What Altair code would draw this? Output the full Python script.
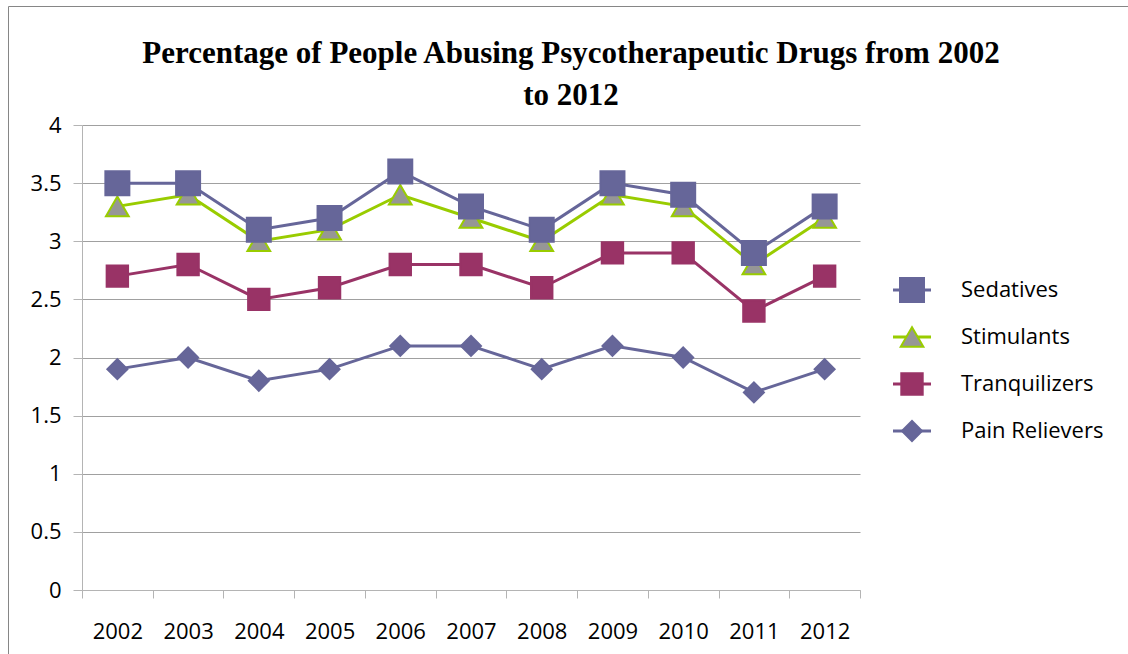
import altair as alt
import pandas as pd

# Survey years and the share (%) of people misusing each drug class
years = [str(y) for y in range(2002, 2013)]
sedatives = [3.5, 3.5, 3.1, 3.2, 3.6, 3.3, 3.1, 3.5, 3.4, 2.9, 3.3]
stimulants = [3.3, 3.4, 3.0, 3.1, 3.4, 3.2, 3.0, 3.4, 3.3, 2.8, 3.2]
tranquilizers = [2.7, 2.8, 2.5, 2.6, 2.8, 2.8, 2.6, 2.9, 2.9, 2.4, 2.7]
pain_relievers = [1.9, 2.0, 1.8, 1.9, 2.1, 2.1, 1.9, 2.1, 2.0, 1.7, 1.9]

series_names = ["Sedatives", "Stimulants", "Tranquilizers", "Pain Relievers"]
series_values = [sedatives, stimulants, tranquilizers, pain_relievers]
y_ticks = [0, 0.5, 1, 1.5, 2, 2.5, 3, 3.5, 4]

# Styling per series
line_colors = ["#666699", "#99CC00", "#993366", "#666699"]
marker_fills = ["#666699", "#969696", "#993366", "#666699"]
marker_strokes = ["#666699", "#99CC00", "#993366", "#666699"]
marker_shapes = ["square", "triangle-up", "square", "diamond"]
marker_sizes = [576, 400, 324, 400]
draw_rank = [4, 3, 2, 1]  # sedatives drawn on top

# Line keys get their own domain so the line-swatch legend stays separate
line_keys = [n + " line" for n in series_names]

rows = []
for name, key, vals, rank in zip(series_names, line_keys, series_values, draw_rank):
    for yr, v in zip(years, vals):
        rows.append({"Year": yr, "Value": v, "Series": name,
                     "SeriesLine": key, "rank": rank})
df = pd.DataFrame(rows)

# Frame (outer box) and plot-area geometry
FRAME_W, FRAME_H = 1120, 648
PLOT_X0, PLOT_X1 = 74, 852
PLOT_Y0, PLOT_Y1 = 119, 584

LABEL_FONT = "Open Sans"
GRID = "#A0A0A0"
AXIS_LINE = "#B4B4B4"

x_enc = alt.X(
    "Year:O",
    scale=alt.Scale(type="band", domain=years, range=[PLOT_X0, PLOT_X1],
                    paddingInner=0, paddingOuter=0),
    axis=alt.Axis(title=None, offset=PLOT_Y1 - FRAME_H, tickBand="extent",
                  tickSize=8, tickColor=AXIS_LINE, domainColor=AXIS_LINE,
                  labelFont=LABEL_FONT, labelFontSize=22, labelColor="black",
                  labelPadding=23, labelAngle=0, grid=False),
)
y_enc = alt.Y(
    "Value:Q",
    scale=alt.Scale(domain=[0, 4], range=[PLOT_Y1, PLOT_Y0], nice=False, zero=False),
    axis=alt.Axis(title=None, values=y_ticks, format="~g", offset=-PLOT_X0,
                  tickSize=9, tickColor=AXIS_LINE, domainColor=AXIS_LINE,
                  grid=True, gridColor=GRID, gridWidth=1,
                  labelFont=LABEL_FONT, labelFontSize=22, labelColor="black",
                  labelPadding=12),
)

LEGEND_Y = 260.5

# Line swatches behind the legend markers
line_legend = alt.Legend(
    title=None, orient="none", legendX=883.5, legendY=LEGEND_Y,
    symbolType="stroke", symbolSize=1444, symbolStrokeWidth=3,
    labelExpr="''", labelFontSize=22,
    clipHeight=47, rowPadding=0, padding=0,
)
point_legend = alt.Legend(
    title=None, orient="none", legendX=891, legendY=LEGEND_Y,
    labelFont=LABEL_FONT, labelFontSize=22, labelColor="black",
    labelOffset=36, symbolStrokeWidth=2, symbolOpacity=1,
    clipHeight=47, rowPadding=0, padding=0,
)

lines = alt.Chart(df).mark_line(strokeWidth=3).encode(
    x=x_enc,
    y=y_enc,
    color=alt.Color("SeriesLine:N",
                    scale=alt.Scale(domain=line_keys, range=line_colors),
                    legend=line_legend),
)

points = alt.Chart(df).mark_point(filled=True, opacity=1, strokeWidth=2).encode(
    x=x_enc,
    y=y_enc,
    fill=alt.Fill("Series:N", scale=alt.Scale(domain=series_names, range=marker_fills),
                  legend=point_legend),
    stroke=alt.Stroke("Series:N", scale=alt.Scale(domain=series_names, range=marker_strokes),
                      legend=point_legend),
    shape=alt.Shape("Series:N", scale=alt.Scale(domain=series_names, range=marker_shapes),
                    legend=point_legend),
    size=alt.Size("Series:N", scale=alt.Scale(domain=series_names, range=marker_sizes),
                  legend=point_legend),
    order=alt.Order("rank:Q"),
)

chart = alt.layer(lines, points).properties(
    width=FRAME_W,
    height=FRAME_H,
    title=alt.Title(
        text=["Percentage of People Abusing Psycotherapeutic Drugs from 2002", "to 2012"],
        font="Liberation Serif", fontSize=31, fontWeight="bold", color="black",
        anchor="middle", frame="group", lineHeight=42, offset=-106, dx=3,
    ),
    padding={"left": 8, "top": 6, "right": 0, "bottom": 0},
    background="white",
).configure_view(
    stroke="#868686", strokeWidth=1, fill="white",
)

chart.save("out.html", embed_options={"renderer": "svg", "actions": False})
